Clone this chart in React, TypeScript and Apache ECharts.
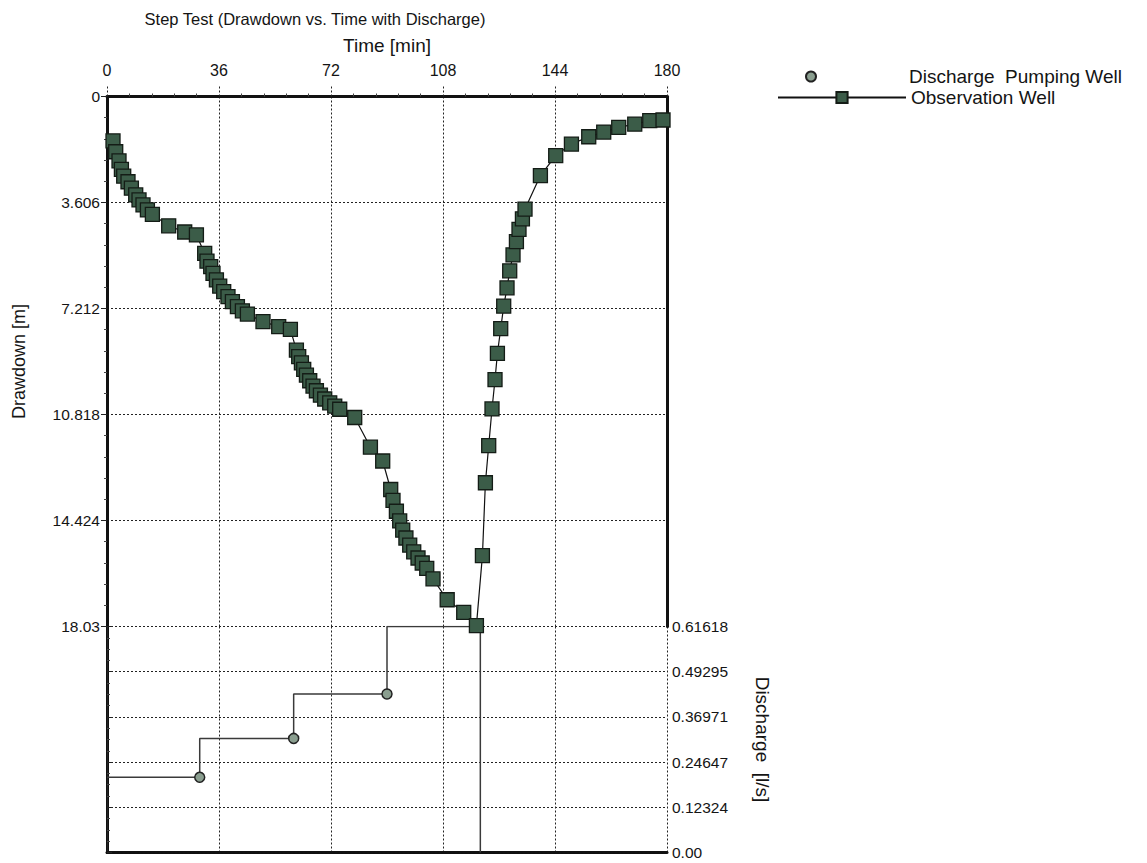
import { useEffect, useRef } from "react";
import * as echarts from "echarts";

// ---- data ----
const TIME_TICKS = [0, 36, 72, 108, 144, 180];
const DRAWDOWN_TICKS = ["0", "3.606", "7.212", "10.818", "14.424", "18.03"];
const DISCHARGE_TICKS = ["0.00", "0.12324", "0.24647", "0.36971", "0.49295", "0.61618"];

// Observation well: time [min]
const OBS_TIME = [
  1.93, 2.8, 3.86, 4.63, 5.37, 6.75, 7.84, 9.23, 10.29, 11.57, 12.99, 14.59, 19.83, 24.98, 28.74,
  31.4, 32.14, 33.33, 34.07, 35.17, 36.23, 37.51, 38.89, 40.31, 41.92, 43.52, 45.13, 50.14, 55.19, 58.95,
  60.88, 61.62, 62.49, 63.23, 64.1, 65.16, 66.22, 67.31, 68.6, 69.98, 71.59, 73.2, 74.8, 79.62, 84.67, 88.62,
  91.19, 91.93, 93.02, 94.08, 95.05, 96.08, 97.3, 98.59, 99.97, 101.32, 102.77, 104.79, 109.35, 114.66, 118.74,
  120.67, 121.63, 122.69, 123.75, 124.72, 125.49, 126.55, 127.51, 128.58, 129.44, 130.51, 131.6, 132.43, 133.53,
  134.36, 139.31, 144.23, 149.28, 154.84, 159.66, 164.48, 169.63, 174.45, 178.72,
];
// Observation well: drawdown [m]
const OBS_DRAWDOWN = [
  1.51, 1.88, 2.19, 2.48, 2.71, 2.9, 3.12, 3.35, 3.52, 3.69, 3.86, 4.01, 4.4, 4.61, 4.71,
  5.34, 5.6, 5.79, 6.02, 6.24, 6.45, 6.64, 6.81, 6.98, 7.15, 7.29, 7.4, 7.66, 7.83, 7.92,
  8.63, 8.85, 9.06, 9.28, 9.48, 9.67, 9.85, 10.01, 10.16, 10.29, 10.42, 10.53, 10.64, 10.92, 11.93, 12.4,
  13.37, 13.74, 14.11, 14.44, 14.75, 15.02, 15.26, 15.49, 15.7, 15.87, 16.05, 16.41, 17.12, 17.55, 18.0,
  15.62, 13.14, 11.88, 10.63, 9.63, 8.74, 7.9, 7.13, 6.51, 5.93, 5.39, 4.94, 4.52, 4.16,
  3.83, 2.69, 2.01, 1.62, 1.37, 1.21, 1.05, 0.94, 0.82, 0.8,
];

// Discharge of pumping well (step line)
const Q_TIME = [0, 29.8, 60, 90, 120, 120];
const Q_VALUE = [0.205, 0.205, 0.311, 0.432, 0.616, 0];
const Q_MARKED = [false, true, true, true, false, false];

const NAME_Q = "Discharge  Pumping Well";
const NAME_OBS = "Observation Well";

const FONT = "'Liberation Sans', Arial, sans-serif";
const TXT = "#141414";
const DOT = { type: [2, 2] as number[], color: "#222", width: 1 };

const D_INT = 3.606;
const D_MAX = 18.03;
const Q_MAX = 0.61618;
const Q_INT = Q_MAX / 5;

export default function App() {
  const ref = useRef<HTMLDivElement>(null);

  useEffect(() => {
    const chart = echarts.init(ref.current!, null, { renderer: "svg" });

    const obsData = OBS_TIME.map((t, i) => [t, OBS_DRAWDOWN[i]]);
    const qData = Q_TIME.map((t, i) => ({
      value: [t, Q_VALUE[i]],
      symbol: Q_MARKED[i] ? "circle" : "none",
    }));

    chart.setOption({
      animation: false,
      backgroundColor: "#ffffff",
      textStyle: { fontFamily: FONT, color: TXT },
      title: {
        text: "Step Test (Drawdown vs. Time with Discharge)",
        left: 310,
        textAlign: "center",
        top: 5,
        textStyle: { fontFamily: FONT, fontSize: 16.5, fontWeight: "normal", color: TXT },
      },
      legend: [
        {
          data: [{ name: NAME_Q, icon: "circle" }],
          left: 805,
          top: 67,
          padding: 0,
          itemWidth: 10,
          itemHeight: 10,
          itemGap: 0,
          textStyle: { fontFamily: FONT, fontSize: 19, color: TXT, padding: [0, 0, 0, 88] },
          selectedMode: false,
        },
        {
          data: [NAME_OBS],
          left: 777,
          top: 88,
          padding: 0,
          itemWidth: 128,
          itemHeight: 14,
          itemGap: 0,
          textStyle: { fontFamily: FONT, fontSize: 19, color: TXT },
          selectedMode: false,
        },
      ],
      grid: [
        { left: 107, right: 480, top: 96.5, height: 530 },
        { left: 107, right: 480, top: 626.5, height: 226 },
      ],
      xAxis: [
        {
          type: "value",
          gridIndex: 0,
          position: "top",
          min: 0,
          max: 180,
          interval: 36,
          name: "Time [min]",
          nameLocation: "middle",
          nameGap: 42,
          nameTextStyle: { fontFamily: FONT, fontSize: 19, color: TXT },
          axisLine: { show: true, lineStyle: { color: "#111", width: 3 } },
          axisTick: { show: true, length: 12, lineStyle: { color: "#222", type: [2, 2] } },
          minorTick: { show: true, splitNumber: 5, length: 3, lineStyle: { color: "#444" } },
          axisLabel: {
            margin: 18,
            fontFamily: FONT,
            fontSize: 16,
            color: TXT,
            formatter: (v: number) => String(TIME_TICKS[Math.round(v / 36)]),
          },
          splitLine: { show: true, lineStyle: DOT },
        },
        {
          type: "value",
          gridIndex: 1,
          position: "bottom",
          min: 0,
          max: 180,
          interval: 36,
          axisLine: { show: true, lineStyle: { color: "#111", width: 3 } },
          axisTick: { show: false },
          axisLabel: { show: false },
          splitLine: { show: true, lineStyle: DOT },
        },
        {
          type: "value",
          gridIndex: 1,
          position: "top",
          min: 0,
          max: 180,
          axisLine: { show: true, lineStyle: { color: "#111", width: 2, type: [2, 2] } },
          axisTick: { show: false },
          axisLabel: { show: false },
          splitLine: { show: false },
        },
      ],
      yAxis: [
        {
          type: "value",
          gridIndex: 0,
          position: "left",
          inverse: true,
          min: 0,
          max: D_MAX,
          interval: D_INT,
          name: "Drawdown [m]",
          nameLocation: "middle",
          nameGap: 79,
          nameTextStyle: { fontFamily: FONT, fontSize: 18, color: TXT },
          axisLine: { show: true, lineStyle: { color: "#111", width: 3 } },
          axisTick: { show: true, length: 6, lineStyle: { color: "#222" } },
          minorTick: { show: true, splitNumber: 5, length: 3, lineStyle: { color: "#444" } },
          axisLabel: {
            margin: 7,
            fontFamily: FONT,
            fontSize: 15.5,
            color: TXT,
            formatter: (v: number) => DRAWDOWN_TICKS[Math.round(v / D_INT)],
          },
          splitLine: { show: true, lineStyle: DOT },
        },
        {
          type: "value",
          gridIndex: 1,
          position: "right",
          min: 0,
          max: Q_MAX,
          interval: Q_INT,
          name: "Discharge  [l/s]",
          nameLocation: "middle",
          nameRotate: -90,
          nameGap: 86,
          nameTextStyle: { fontFamily: FONT, fontSize: 19, color: TXT },
          axisLine: { show: true, lineStyle: { color: "#111", width: 3 } },
          axisTick: { show: true, length: 5, lineStyle: { color: "#222" } },
          minorTick: { show: true, splitNumber: 4, length: 3, lineStyle: { color: "#444" } },
          axisLabel: {
            margin: 5,
            fontFamily: FONT,
            fontSize: 15.5,
            color: TXT,
            formatter: (v: number) => DISCHARGE_TICKS[Math.round(v / Q_INT)],
          },
          splitLine: { show: true, lineStyle: DOT },
        },
        {
          type: "value",
          gridIndex: 0,
          position: "right",
          inverse: true,
          min: 0,
          max: D_MAX,
          axisLine: { show: true, lineStyle: { color: "#111", width: 3 } },
          axisTick: { show: false },
          axisLabel: { show: false },
          splitLine: { show: false },
        },
        {
          type: "value",
          gridIndex: 1,
          position: "left",
          min: 0,
          max: Q_MAX,
          axisLine: { show: true, lineStyle: { color: "#222", width: 1 } },
          axisTick: { show: false },
          axisLabel: { show: false },
          splitLine: { show: false },
        },
      ],
      series: [
        {
          name: NAME_Q,
          type: "line",
          xAxisIndex: 1,
          yAxisIndex: 1,
          step: "start",
          data: qData,
          symbolSize: 10,
          lineStyle: { color: "#3a3a3a", width: 1.5 },
          itemStyle: { color: "#8a9e8f", borderColor: "#222", borderWidth: 1.5 },
          z: 3,
        },
        {
          name: NAME_OBS,
          type: "line",
          xAxisIndex: 0,
          yAxisIndex: 0,
          data: obsData,
          symbol: "rect",
          symbolSize: 14,
          lineStyle: { color: "#111", width: 1.2 },
          itemStyle: { color: "#3b5c48", borderColor: "#141c16", borderWidth: 1.3 },
          clip: false,
          z: 4,
        },
      ],
    });

    return () => chart.dispose();
  }, []);

  return (
    <div
      ref={ref}
      style={{ position: "fixed", left: 0, top: 0, width: 1147, height: 863, background: "#fff" }}
    />
  );
}
